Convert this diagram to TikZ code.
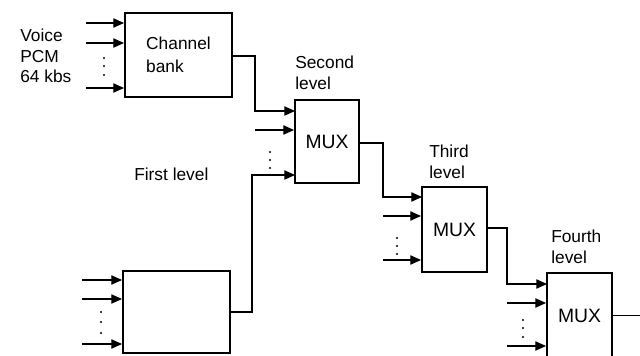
\documentclass[tikz,border=0pt]{standalone}
\usepackage{fontspec}
\setmainfont{Liberation Sans}
\usetikzlibrary{arrows.meta}
\begin{document}
\begin{tikzpicture}[x=0.75pt,y=-0.75pt,
  box/.style={draw,line width=1.5pt,minimum width=#1,inner sep=0pt},
  lbl/.style={inner sep=0pt,align=left,font=\fontsize{13}{16}\selectfont},
  arr/.style={line width=0.8pt,-{Triangle[length=8pt,width=7pt]}},
  wire/.style={line width=0.8pt},
  dot/.style={fill,circle,inner sep=0pt,minimum size=1.6pt}]
\useasboundingbox (0,0) rectangle (640,356);
\clip (0,0) rectangle (640,356);
% boxes
\node[box=107*0.75pt,minimum height=84*0.75pt,lbl,line width=1.5pt,draw] (cb) at (178.5,55) {Channel\\[1pt]bank};
\node[box=107*0.75pt,minimum height=82*0.75pt] (fl) at (176.5,312) {};
\node[box=64*0.75pt,minimum height=83*0.75pt,font=\fontsize{14.5}{17}\selectfont] (m2) at (327,141.5) {MUX};
\node[box=65*0.75pt,minimum height=85*0.75pt,font=\fontsize{14.5}{17}\selectfont] (m3) at (454.5,229.5) {MUX};
\node[box=65*0.75pt,minimum height=85*0.75pt,font=\fontsize{14.5}{17}\selectfont] (m4) at (579.5,315.5) {MUX};
% labels
\node[lbl,anchor=west,font=\fontsize{13}{15.5}\selectfont] (voice) at (20,56) {Voice\\PCM\\64 kbs};
\node[lbl,anchor=west] (l2) at (295,73) {Second\\level};
\node[lbl,anchor=west] (l3) at (429,162) {Third\\level};
\node[lbl,anchor=west] (l4) at (551,247) {Fourth\\level};
\node[lbl,anchor=west] (l1) at (134,174) {First level};
% channel bank inputs
\foreach \y/\n in {23/a,43/b,88/c}{
  \coordinate (cb\n) at (86,\y);
  \draw[arr] (cb\n) -- (cb\n -| cb.west);
}
\foreach \y in {58,66,75}{\node[dot] at (104,\y) {};}
% first level inputs
\foreach \y/\n in {280/a,299/b,344/c}{
  \coordinate (fl\n) at (82,\y);
  \draw[arr] (fl\n) -- (fl\n -| fl.west);
}
\foreach \y in {312,322,333}{\node[dot] at (101,\y) {};}
% MUX2 inputs
\coordinate (m2a) at (295,111);
\coordinate (m2b) at (255,130);
\coordinate (m2c) at (295,175);
\draw[arr] (m2b) -- (m2b -| m2.west);
\foreach \y in {152,160,168}{\node[dot] at (270,\y) {};}
\coordinate (j1) at (255,56);
\draw[arr] (cb.east |- j1) -- (j1) |- (m2a);
\coordinate (j2) at (252,312);
\draw[arr] (fl.east) -- (j2) |- (m2c);
% MUX3 inputs
\coordinate (m3a) at (422,197);
\coordinate (m3b) at (383,216);
\coordinate (m3c) at (383,260);
\draw[arr] (m3b) -- (m3b -| m3.west);
\draw[arr] (m3c) -- (m3c -| m3.west);
\foreach \y in {238,246,254}{\node[dot] at (397,\y) {};}
\coordinate (j3) at (383,143);
\draw[arr] (m2.east |- j3) -- (j3) |- (m3a);
% MUX4 inputs
\coordinate (m4a) at (547,284);
\coordinate (m4b) at (507,303);
\coordinate (m4c) at (507,346);
\draw[arr] (m4b) -- (m4b -| m4.west);
\draw[arr] (m4c) -- (m4c -| m4.west);
\foreach \y in {320,328,337}{\node[dot] at (523,\y) {};}
\coordinate (j4) at (507,228);
\draw[arr] (m3.east |- j4) -- (j4) |- (m4a);
% output
\coordinate (out) at (640,315.5);
\draw[wire] (m4.east) -- (out);
\end{tikzpicture}
\end{document}
